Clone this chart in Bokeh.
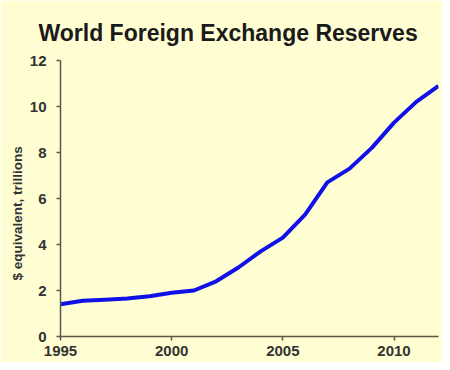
from bokeh.plotting import figure
from bokeh.models import Range1d, FixedTicker, Title
from bokeh.embed import file_html
from bokeh.resources import INLINE

years = [1995, 1996, 1997, 1998, 1999, 2000, 2001, 2002, 2003, 2004, 2005,
         2006, 2007, 2008, 2009, 2010, 2011, 2012]
reserves = [1.4, 1.55, 1.6, 1.65, 1.75, 1.9, 2.0, 2.4, 3.0, 3.7, 4.3,
            5.3, 6.7, 7.3, 8.2, 9.3, 10.2, 10.9]
x_ticks = [1995, 2000, 2005, 2010]
y_ticks = [0, 2, 4, 6, 8, 10, 12]

BG = "#FFFDD2"
AX = "#5a5a48"
FONT = "Liberation Sans"

p = figure(width=442, height=362, output_backend="svg", toolbar_location=None,
           x_range=Range1d(1995, 2012), y_range=Range1d(0, 12),
           title="World Foreign Exchange Reserves",
           min_border_left=60, min_border_right=4, min_border_top=60, min_border_bottom=26)
p.background_fill_color = BG
p.border_fill_color = BG
p.outline_line_color = None
p.grid.visible = False

p.title.text_font = FONT
p.title.text_font_size = "23px"
p.title.text_font_style = "bold"
p.title.text_color = "#1a1a1a"
p.title.align = "left"
p.title.offset = -22
p.title.standoff = 30

p.line(years, reserves, line_width=4, line_color="#1010E8")

for ax in (p.xaxis[0], p.yaxis[0]):
    ax.axis_line_color = AX
    ax.axis_line_width = 1.5
    ax.major_tick_line_color = AX
    ax.major_tick_line_width = 1.5
    ax.major_tick_in = 0
    ax.major_tick_out = 4
    ax.minor_tick_line_color = None
    ax.major_label_text_font = FONT
    ax.major_label_text_font_size = "15px"
    ax.major_label_text_font_style = "bold"
    ax.major_label_text_color = "#333333"

p.xaxis.ticker = FixedTicker(ticks=x_ticks)
p.yaxis.ticker = FixedTicker(ticks=y_ticks)
p.xaxis.major_label_standoff = 5
p.yaxis.major_label_standoff = 10

ytitle = Title(text="$ equivalent, trillions", align="left", offset=56,
               text_font=FONT, text_font_size="13.5px", text_font_style="bold",
               text_color="#333333", standoff=4)
p.add_layout(ytitle, "left")

open("out.html", "w").write(file_html(p, INLINE))
